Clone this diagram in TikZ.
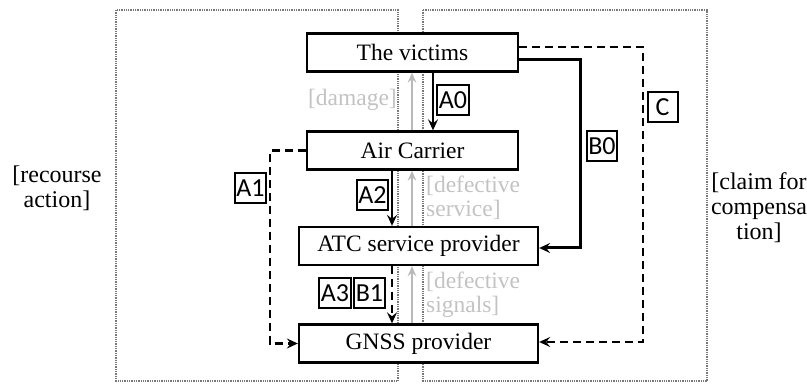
\documentclass[tikz,border=0pt]{standalone}
\usepackage{fontspec}
\setmainfont{Liberation Serif}
\newfontfamily\labfont{Carlito}
\usetikzlibrary{arrows.meta,calc}

\definecolor{framegray}{RGB}{120,120,120}
\definecolor{notegray}{RGB}{195,195,195}
\definecolor{arrowgray}{RGB}{185,185,185}

\tikzset{
  party/.style={draw=black, line width=2.3pt, fill=white, minimum height=38pt,
    inner sep=0pt, font=\fontsize{23.5}{26}\selectfont},
  tag/.style={draw=black, line width=2pt, fill=white, minimum width=30pt,
    minimum height=30pt, inner sep=1.5pt, font=\labfont\fontsize{26}{28}\selectfont},
  note/.style={text=notegray, align=left, inner sep=0pt, font=\fontsize{23.5}{24}\selectfont},
  side/.style={align=center, inner sep=0pt, font=\fontsize{24}{25}\selectfont},
  frame/.style={draw=framegray, line width=1.6pt, dash pattern=on 1.3pt off 1pt},
  tip/.style={-{Stealth[length=11pt,width=10pt,inset=4pt]}},
  grey tip/.style={-{Stealth[length=10pt,width=8.5pt,inset=3.5pt]}, draw=arrowgray, line width=2.2pt},
  solid link/.style={tip, line width=2pt},
  heavy link/.style={tip, line width=3pt},
  dashed link/.style={tip, line width=2.4pt, dash pattern=on 8pt off 5pt},
}

\begin{document}
\begin{tikzpicture}[x=1pt, y=-1pt]
\useasboundingbox (0,0) rectangle (807,385);

% the two dotted regions
\draw[frame] (116,10) rectangle (398,381);
\draw[frame] (423,10) rectangle (707,381);

% parties
\node[party, minimum width=211pt] (victims) at (412.5,52.5) {The victims};
\node[party, minimum width=211pt] (carrier) at (412.5,150.5) {Air Carrier};
\node[party, minimum width=239pt] (atc) at (418.5,246) {ATC service provider};
\node[party, minimum width=239pt] (gnss) at (418.5,343.5) {GNSS provider};

% columns for the vertical links
\coordinate (colA) at (392,0);
\coordinate (colG) at (412,0);
\coordinate (colV) at (433,0);

% claims going down the chain
\draw[solid link] (victims.south -| colV) -- (carrier.north -| colV);
\draw[solid link] (carrier.south -| colA) -- (atc.north -| colA);
\draw[dashed link] (atc.south -| colA) -- (gnss.north -| colA);

% causes going up the chain
\draw[grey tip] (carrier.north -| colG) -- (victims.south -| colG);
\draw[grey tip] (atc.north -| colG) -- (carrier.south -| colG);
\draw[grey tip] (gnss.north -| colG) -- (atc.south -| colG);

% side routes
\coordinate (leftrail) at (270,0);
\coordinate (brail) at (580,0);
\coordinate (crail) at (643,0);
\coordinate (bstart) at ($(victims.east)+(0,7.5)$);
\coordinate (cstart) at ($(victims.east)+(0,-5.5)$);
\coordinate (bend) at ($(atc.east)+(0,2)$);
\coordinate (cend) at ($(gnss.east)+(0,-1.5)$);

\draw[dashed link] (carrier.west) -- (carrier.west -| leftrail)
  -- (gnss.west -| leftrail) -- (gnss.west);
\draw[heavy link] (bstart) -- (bstart -| brail) -- (bend -| brail) -- (bend);
\draw[dashed link] (cstart) -- (cstart -| crail) -- (cend -| crail) -- (cend);

% link tags
\node[tag] (tA0) at (453,100) {A0};
\node[tag] (tA1) at (250.5,188) {A1};
\node[tag] (tA2) at (372.5,195.5) {A2};
\node[tag] (tA3) at (335,293) {A3};
\node[tag] (tB1) at (369.5,293) {B1};
\node[tag] (tB0) at (602,146.5) {B0};
\node[tag] (tC)  at (662.5,107) {C};

% grey notes
\node[note, anchor=east] (ndamage) at (397,100) {[damage]};
\node[note, anchor=west] (nservice) at (426,198) {[defective\\service]};
\node[note, anchor=west] (nsignals) at (426,295) {[defective\\signals]};

% side captions
\node[side] (recourse) at (57,188) {[recourse\\action]};
\node[side] (claim) at (759,208) {[claim for\\compensa\\tion]};
\end{tikzpicture}
\end{document}
